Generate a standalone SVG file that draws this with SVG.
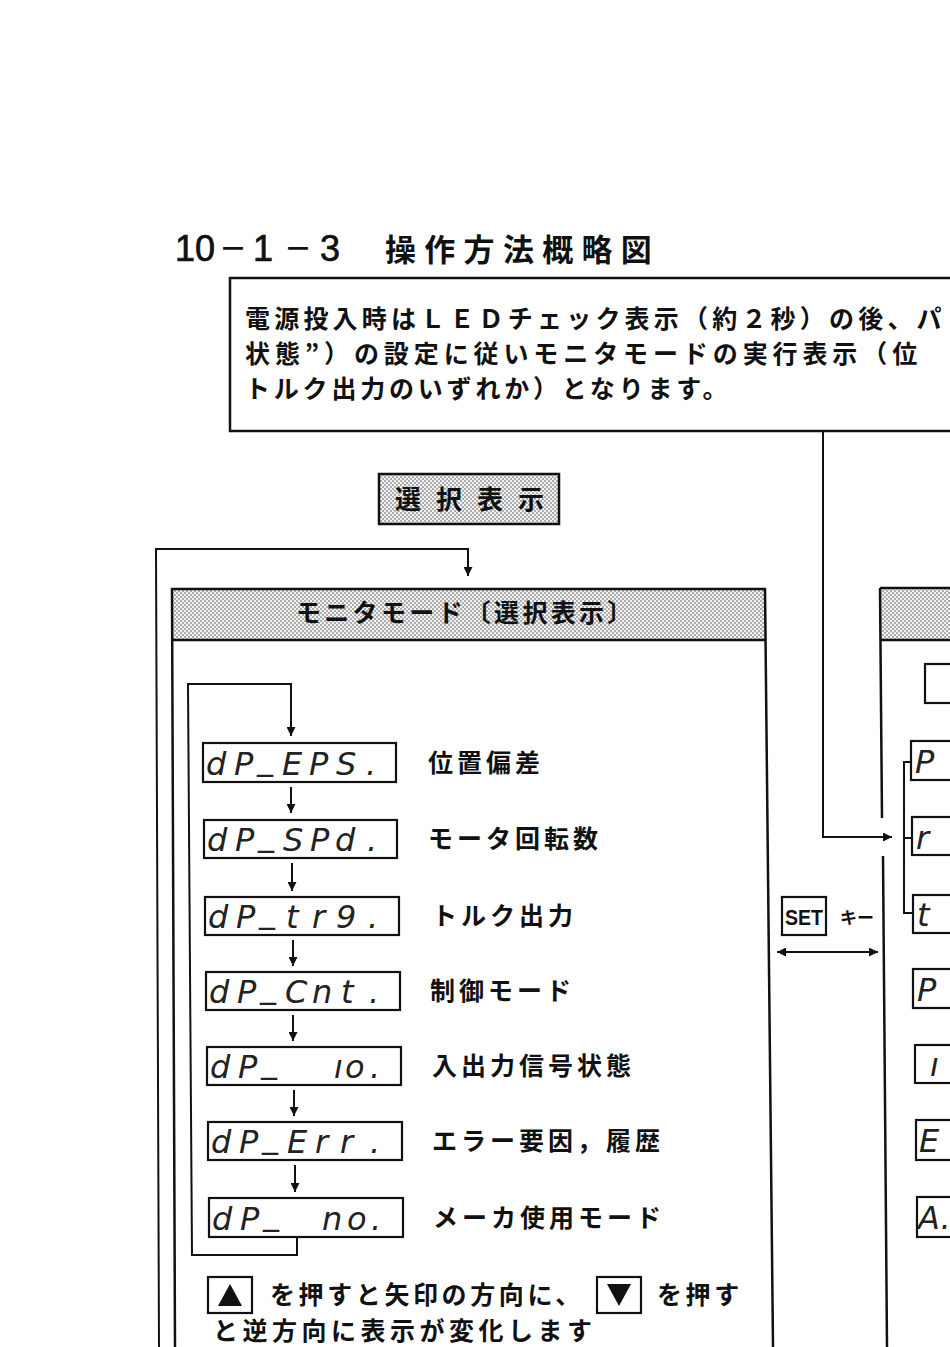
<svg xmlns="http://www.w3.org/2000/svg" width="950" height="1347" viewBox="0 0 950 1347">
<style>
.jp{font-family:"Noto Sans CJK JP","Noto Sans CJK SC",sans-serif;font-weight:700;fill:#111}
.ln{fill:none;stroke:#111;stroke-width:2.5}
.bx{fill:#fff;stroke:#111;stroke-width:2.2}
.led{font-family:"DejaVu Sans","Liberation Sans",sans-serif;font-style:oblique;font-weight:200;font-size:32px;fill:#222}
.lbl{font-size:25px;letter-spacing:4px}
.cn{fill:none;stroke:#111;stroke-width:2}
</style>
<defs>
<pattern id="dots" width="4" height="4" patternUnits="userSpaceOnUse">
<rect width="4" height="4" fill="#f2f2f2"/>
<circle cx="1" cy="1" r="0.8" fill="#555"/>
<circle cx="3" cy="3" r="0.8" fill="#555"/>
</pattern>
<marker id="ah" viewBox="0 0 10 10" refX="10" refY="5" markerWidth="9" markerHeight="9" markerUnits="userSpaceOnUse" orient="auto-start-reverse">
<path d="M0,0 L10,5 L0,10 z" fill="#111"/>
</marker>
</defs>
<rect width="950" height="1347" fill="#fff"/>

<g id="title">
<text x="175" y="261" font-family="Liberation Sans,sans-serif" font-size="36" fill="#111" stroke="#111" stroke-width="0.7">10</text>
<text x="219" y="259" class="jp" font-size="28" font-weight="400">－</text>
<text x="253" y="261" font-family="Liberation Sans,sans-serif" font-size="36" fill="#111" stroke="#111" stroke-width="0.7">1</text>
<text x="284" y="259" class="jp" font-size="28" font-weight="400">－</text>
<text x="320" y="261" font-family="Liberation Sans,sans-serif" font-size="36" fill="#111" stroke="#111" stroke-width="0.7">3</text>
<text x="385" y="261" class="jp" font-size="31" letter-spacing="8.3">操作方法概略図</text>
</g>

<g id="note-top">
<rect x="230" y="278" width="740" height="153" class="ln"/>
<text x="245" y="328" class="jp" font-size="25" letter-spacing="4.2">電源投入時はＬＥＤチェック表示（約２秒）の後、パ</text>
<text x="245" y="363" class="jp" font-size="25" letter-spacing="4.9">状態”）の設定に従いモニタモードの実行表示（位</text>
<text x="245" y="398" class="jp" font-size="25" letter-spacing="3.8">トルク出力のいずれか）となります。</text>
</g>

<g id="select-label">
<rect x="379" y="474" width="180" height="50" fill="url(#dots)" stroke="#111" stroke-width="2.5"/>
<text x="395" y="509" class="jp" font-size="26" letter-spacing="15">選択表示</text>
</g>

<g id="monitor-mode">
<polygon points="172,589 765,589 766,640 173,640" fill="url(#dots)"/>
<path class="ln" d="M175,1347 L172,589 H765 L773,1347 M173,640 H766"/>
<text x="296" y="622" class="jp" font-size="25" letter-spacing="3.3">モニタモード〔選択表示〕</text>
</g>

<g id="led1">
<rect x="203" y="743" width="193" height="39" class="bx"/>
<text class="led" y="775"><tspan x="206">d</tspan><tspan x="234">P</tspan><tspan x="257" y="769">_</tspan><tspan x="282" y="775">E</tspan><tspan x="309">P</tspan><tspan x="336">S</tspan><tspan x="366">.</tspan></text>
<text x="428" y="772" class="jp lbl">位置偏差</text>
</g>
<g id="led2">
<rect x="204" y="820" width="193" height="38" class="bx"/>
<text class="led" y="851"><tspan x="207">d</tspan><tspan x="235">P</tspan><tspan x="258" y="845">_</tspan><tspan x="283" y="851">S</tspan><tspan x="310">P</tspan><tspan x="335">d</tspan><tspan x="367">.</tspan></text>
<text x="428" y="848" class="jp lbl">モータ回転数</text>
</g>
<g id="led3">
<rect x="205" y="897" width="194" height="38" class="bx"/>
<text class="led" y="928"><tspan x="208">d</tspan><tspan x="236">P</tspan><tspan x="259" y="922">_</tspan><tspan x="286" y="928">t</tspan><tspan x="312">r</tspan><tspan x="336">9</tspan><tspan x="368">.</tspan></text>
<text x="432" y="925" class="jp lbl">トルク出力</text>
</g>
<g id="led4">
<rect x="206" y="972" width="194" height="38" class="bx"/>
<text class="led" y="1003"><tspan x="209">d</tspan><tspan x="237">P</tspan><tspan x="260" y="997">_</tspan><tspan x="285" y="1003">C</tspan><tspan x="312">n</tspan><tspan x="341">t</tspan><tspan x="369">.</tspan></text>
<text x="430" y="1000" class="jp lbl">制御モード</text>
</g>
<g id="led5">
<rect x="207" y="1047" width="194" height="38" class="bx"/>
<text class="led" y="1078"><tspan x="210">d</tspan><tspan x="238">P</tspan><tspan x="261" y="1072">_</tspan><tspan x="334" y="1078">ı</tspan><tspan x="345">o</tspan><tspan x="370">.</tspan></text>
<text x="432" y="1075" class="jp lbl">入出力信号状態</text>
</g>
<g id="led6">
<rect x="208" y="1122" width="194" height="38" class="bx"/>
<text class="led" y="1153"><tspan x="211">d</tspan><tspan x="239">P</tspan><tspan x="262" y="1147">_</tspan><tspan x="287" y="1153">E</tspan><tspan x="315">r</tspan><tspan x="340">r</tspan><tspan x="370">.</tspan></text>
<text x="432" y="1150" class="jp lbl">エラー要因，履歴</text>
</g>
<g id="led7">
<rect x="209" y="1198" width="194" height="39" class="bx"/>
<text class="led" y="1230"><tspan x="212">d</tspan><tspan x="240">P</tspan><tspan x="263" y="1224">_</tspan><tspan x="322" y="1230">n</tspan><tspan x="347">o</tspan><tspan x="371">.</tspan></text>
<text x="433" y="1227" class="jp lbl">メーカ使用モード</text>
</g>

<g id="key-note">
<rect x="208" y="1277" width="44" height="36" class="bx"/>
<path d="M218,1306 L230,1284 L242,1306 z" fill="#111"/>
<text x="270" y="1304" class="jp" font-size="25" letter-spacing="3.6">を押すと矢印の方向に、</text>
<rect x="597" y="1277" width="44" height="36" class="bx"/>
<path d="M607,1284 L631,1284 L619,1306 z" fill="#111"/>
<text x="657" y="1304" class="jp" font-size="25" letter-spacing="3.6">を押す</text>
<text x="213" y="1340" class="jp" font-size="25" letter-spacing="4.5">と逆方向に表示が変化します</text>
</g>

<g id="set-key">
<rect x="782" y="897" width="44" height="38" class="bx"/>
<text x="785" y="925" font-family="Liberation Sans,sans-serif" font-weight="700" font-size="22" textLength="38" lengthAdjust="spacingAndGlyphs" fill="#111">SET</text>
<text x="840" y="924" class="jp" font-size="17">キー</text>
</g>

<g id="right-mode">
<polygon points="880,588 950,588 950,640 881,640" fill="url(#dots)"/>
<path class="ln" d="M880,588 H950 M881,640 H950 M880,588 L882,818 M883,856 L887,1347"/>
<rect x="925" y="664" width="40" height="39" class="bx"/>
</g>
<g id="right-leds">
<rect x="911" y="741" width="60" height="39" class="bx"/>
<text class="led" x="915" y="773">P</text>
<rect x="912" y="817" width="60" height="38" class="bx"/>
<text class="led" x="916" y="849">r</text>
<rect x="913" y="895" width="60" height="38" class="bx"/>
<text class="led" x="917" y="926">t</text>
<rect x="913" y="969" width="60" height="39" class="bx"/>
<text class="led" x="917" y="1001">P</text>
<rect x="915" y="1045" width="60" height="38" class="bx"/>
<text class="led" x="930" y="1076">ı</text>
<rect x="916" y="1120" width="60" height="40" class="bx"/>
<text class="led" x="919" y="1152">E</text>
<rect x="917" y="1197" width="60" height="40" class="bx"/>
<text class="led" x="918" y="1229" font-size="29">A.</text>
</g>

<g id="connectors">
<path class="cn" d="M823,431 V837 H892" marker-end="url(#ah)"/>
<path class="cn" d="M159,1347 L156,549 H468 V576" marker-end="url(#ah)"/>
<path class="cn" d="M297,1237 V1255 H192 L188,684 H291 V736" marker-end="url(#ah)"/>
<path class="cn" d="M291,787 V813" marker-end="url(#ah)"/>
<path class="cn" d="M292,863 V891" marker-end="url(#ah)"/>
<path class="cn" d="M293,940 V966" marker-end="url(#ah)"/>
<path class="cn" d="M293,1015 V1041" marker-end="url(#ah)"/>
<path class="cn" d="M294,1090 V1116" marker-end="url(#ah)"/>
<path class="cn" d="M295,1165 V1192" marker-end="url(#ah)"/>
<path class="cn" d="M777,952 H878" marker-start="url(#ah)" marker-end="url(#ah)"/>
<path class="cn" d="M911,762 H904 V913 H913 M904,838 H912"/>
</g>
</svg>
